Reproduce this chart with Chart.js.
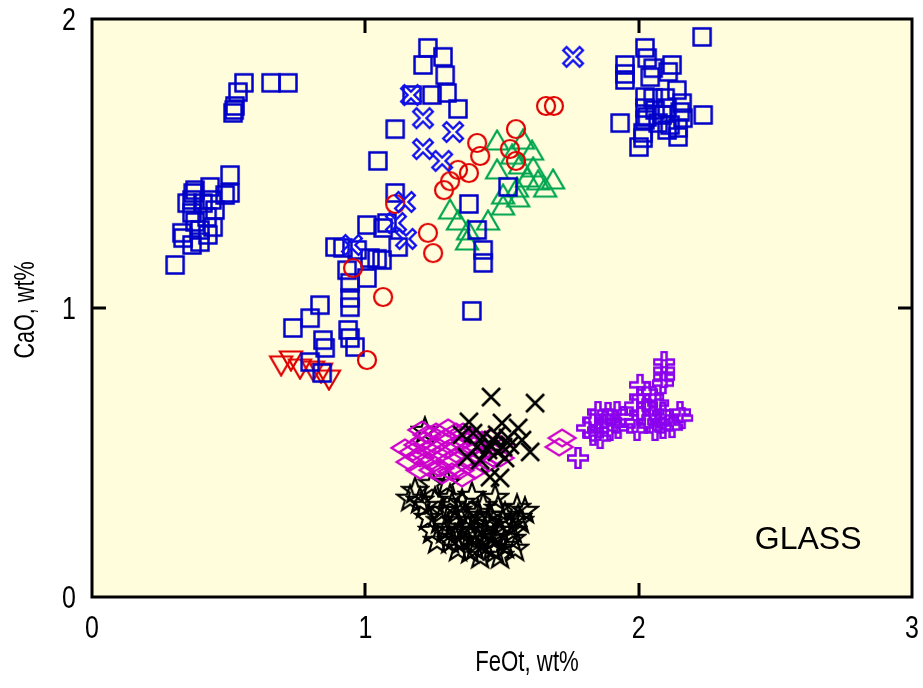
<!DOCTYPE html>
<html>
<head>
<meta charset="utf-8">
<script src="https://cdn.jsdelivr.net/npm/chart.js@4.4.0/dist/chart.umd.min.js"></script>
<style>
  html, body { margin: 0; padding: 0; background: #fff; }
</style>
</head>
<body>
<canvas id="chart" width="923" height="688"></canvas>
<script>
// tick values
const xTicks = [0, 1, 2, 3];
const yTicks = [0, 1, 2];

// [FeOt, CaO] pairs
const blueSquares = [
  [0.556,1.779],[0.534,1.747],[0.523,1.699],[0.520,1.685],[0.516,1.675],[0.655,1.779],[0.717,1.779],
  [0.505,1.460],[0.505,1.398],[0.487,1.391],[0.377,1.408],[0.370,1.398],[0.366,1.374],[0.432,1.419],
  [0.439,1.374],[0.450,1.339],[0.421,1.315],[0.366,1.329],[0.377,1.298],[0.395,1.270],[0.424,1.253],
  [0.329,1.260],[0.333,1.242],[0.366,1.218],[0.395,1.228],[0.304,1.149],[0.443,1.280],[0.406,1.363],
  [0.348,1.363],
  [1.109,1.619],[1.046,1.509],[1.109,1.398],[1.006,1.287],[1.065,1.277],[1.120,1.211],[0.889,1.211],
  [0.918,1.208],[0.970,1.201],[1.017,1.173],[1.043,1.170],[0.933,1.131],[1.006,1.104],[0.944,1.087],
  [0.944,1.035],[0.944,1.003],[0.834,1.010],[0.798,0.965],[0.735,0.931],[0.845,0.889],[0.853,0.862],
  [0.937,0.924],[0.944,0.896],[0.962,0.865],[0.798,0.813],[0.842,0.775],[1.079,1.294],[1.061,1.166],
  [1.229,1.900],[1.211,1.841],[1.284,1.869],[1.292,1.806],[1.171,1.737],[1.244,1.737],[1.299,1.744],
  [1.339,1.689],[1.522,1.419],[1.379,1.360],[1.409,1.270],[1.431,1.201],[1.431,1.156],[1.390,0.990],
  [2.232,1.938],[2.023,1.900],[2.031,1.865],[1.950,1.841],[1.950,1.810],[1.950,1.789],[2.053,1.830],
  [2.122,1.841],[2.108,1.817],[2.042,1.799],[2.140,1.754],[2.023,1.730],[2.053,1.727],[2.097,1.727],
  [2.159,1.709],[2.023,1.692],[2.060,1.685],[2.104,1.692],[2.152,1.678],[2.236,1.668],[1.932,1.640],
  [2.023,1.651],[2.071,1.640],[2.115,1.633],[2.144,1.623],[2.016,1.606],[2.016,1.588],[2.104,1.616],
  [2.144,1.592],[2.001,1.557],[2.031,1.661],[2.162,1.657],[2.086,1.668]
];
const blueCrosses = [
  [1.760,1.869],[1.167,1.737],[1.211,1.657],[1.321,1.609],[1.211,1.550],[1.281,1.509],
  [1.145,1.367],[1.112,1.294],[1.149,1.239],[0.951,1.218]
];
const redCircles = [
  [1.661,1.699],[1.690,1.699],[1.551,1.619],[1.409,1.571],[1.420,1.526],[1.529,1.550],[1.551,1.509],
  [1.339,1.478],[1.379,1.467],[1.310,1.439],[1.288,1.408],[1.109,1.360],[1.229,1.260],[1.248,1.190],
  [1.065,1.038],[0.955,1.138],[1.006,0.820]
];
const redTriangles = [
  [0.692,0.810],[0.728,0.827],[0.761,0.799],[0.809,0.792],[0.838,0.785],[0.867,0.761]
];
const greenTriangles = [
  [1.482,1.571],[1.577,1.574],[1.610,1.536],[1.537,1.522],[1.482,1.471],[1.566,1.488],[1.614,1.478],
  [1.592,1.443],[1.632,1.433],[1.687,1.436],[1.658,1.408],[1.555,1.408],[1.504,1.384],[1.559,1.374],
  [1.504,1.346],[1.310,1.332],[1.339,1.294],[1.449,1.294],[1.376,1.260],[1.372,1.225]
];
const blackCrosses = [
  [1.460,0.692],[1.621,0.671],[1.379,0.606],[1.500,0.602],[1.559,0.585],[1.354,0.561],[1.394,0.567],
  [1.431,0.554],[1.482,0.561],[1.522,0.550],[1.573,0.543],[1.409,0.519],[1.456,0.526],[1.504,0.519],
  [1.603,0.502],[1.372,0.484],[1.420,0.474],[1.511,0.481],[1.456,0.415],[1.493,0.412],[1.467,0.543],
  [1.449,0.509],[1.529,0.526],[1.482,0.502]
];
const magentaDiamonds = [
  [1.175,0.502],[1.193,0.526],[1.200,0.481],[1.218,0.543],[1.229,0.509],[1.237,0.467],[1.255,0.526],
  [1.266,0.491],[1.273,0.446],[1.292,0.550],[1.299,0.509],[1.310,0.474],[1.328,0.526],[1.339,0.491],
  [1.347,0.439],[1.365,0.543],[1.376,0.509],[1.383,0.467],[1.401,0.526],[1.412,0.491],[1.427,0.543],
  [1.438,0.457],[1.456,0.509],[1.467,0.481],[1.486,0.526],[1.226,0.561],[1.281,0.422],[1.317,0.433],
  [1.248,0.439],[1.357,0.571],[1.720,0.550],[1.709,0.519],
  [1.145,0.516],[1.164,0.467],[1.207,0.578],[1.259,0.571],[1.303,0.585],[1.332,0.571],[1.390,0.557],
  [1.456,0.550],[1.493,0.481],[1.401,0.439],[1.354,0.412],[1.200,0.439]
];
const purplePluses = [
  [2.093,0.813],[2.093,0.785],[2.093,0.761],[2.089,0.740],[2.005,0.734],[2.031,0.709],[2.005,0.692],
  [2.053,0.692],[1.987,0.664],[2.031,0.664],[2.071,0.671],[2.005,0.637],[2.053,0.640],[2.089,0.637],
  [1.987,0.606],[2.031,0.606],[2.071,0.606],[2.108,0.612],[2.151,0.640],[2.159,0.619],[1.994,0.578],
  [2.060,0.578],[2.089,0.585],[2.122,0.588],[1.851,0.640],[1.888,0.637],[1.921,0.640],[1.833,0.612],
  [1.877,0.606],[1.914,0.606],[1.943,0.623],[1.811,0.585],[1.851,0.578],[1.895,0.578],[1.925,0.585],
  [1.859,0.550],[1.833,0.561],[1.778,0.481]
];
const blackStars = [
  [1.218,0.578],[1.182,0.370],[1.244,0.394],[1.299,0.398],[1.200,0.336],[1.255,0.336],[1.310,0.346],
  [1.390,0.353],[1.475,0.346],[1.555,0.311],[1.229,0.277],[1.281,0.301],[1.339,0.301],[1.412,0.294],
  [1.511,0.284],[1.244,0.232],[1.303,0.242],[1.376,0.242],[1.449,0.256],[1.529,0.249],[1.354,0.197],
  [1.412,0.197],[1.475,0.208],[1.537,0.204],[1.401,0.173],[1.464,0.173],[1.559,0.277],[1.328,0.266],
  [1.365,0.284],[1.438,0.232],[1.493,0.232],[1.383,0.215],[1.456,0.284],[1.420,0.266],[1.347,0.232],
  [1.511,0.180],[1.438,0.180],[1.273,0.266],[1.310,0.197],[1.383,0.163],[1.475,0.163],
  [1.317,0.318],[1.354,0.329],[1.431,0.318],[1.486,0.308],[1.292,0.232],[1.328,0.208],[1.376,0.266],
  [1.401,0.232],[1.467,0.204],[1.504,0.260],[1.540,0.232],[1.566,0.266],[1.339,0.170],[1.420,0.145],
  [1.493,0.145],[1.548,0.170],[1.262,0.197],[1.218,0.318],[1.164,0.343],[1.584,0.301]
];

const BG = "#fffddc";
const FONT = "'Liberation Sans', Arial, sans-serif";

// small canvases used as point styles
function marker(w, h, draw) {
  const c = document.createElement("canvas");
  c.width = w; c.height = h;
  const g = c.getContext("2d");
  g.translate(w / 2, h / 2);
  draw(g);
  return c;
}
function hollowLines(g, color, segs, outer, inner, shrink) {
  g.lineCap = "butt";
  g.strokeStyle = color;
  g.lineWidth = outer;
  segs.forEach(s => { g.beginPath(); g.moveTo(s[0], s[1]); g.lineTo(s[2], s[3]); g.stroke(); });
  g.globalCompositeOperation = "destination-out";
  g.lineWidth = inner;
  segs.forEach(s => { g.beginPath(); g.moveTo(s[0] * shrink, s[1] * shrink); g.lineTo(s[2] * shrink, s[3] * shrink); g.stroke(); });
  g.globalCompositeOperation = "source-over";
}

const sqImg = marker(24, 24, g => { g.strokeStyle = "#0000c8"; g.lineWidth = 2.5; g.strokeRect(-8.5, -8.5, 17, 17); });
const circImg = marker(24, 24, g => { g.strokeStyle = "#e00000"; g.lineWidth = 2.2; g.beginPath(); g.arc(0, 0, 9, 0, Math.PI * 2); g.stroke(); });
const triUpImg = marker(28, 28, g => {
  g.strokeStyle = "#00a550"; g.lineWidth = 2.2;
  g.beginPath(); g.moveTo(0, -12.5); g.lineTo(11, 6.5); g.lineTo(-11, 6.5); g.closePath(); g.stroke();
});
const triDownImg = marker(28, 28, g => {
  g.strokeStyle = "#e00000"; g.lineWidth = 2.2;
  g.beginPath(); g.moveTo(0, 12.5); g.lineTo(11, -6.5); g.lineTo(-11, -6.5); g.closePath(); g.stroke();
});
const blueXImg = marker(30, 30, g => hollowLines(g, "#1010f0", [[-9, -9, 9, 9], [-9, 9, 9, -9]], 7, 2.4, 0.82));
const plusImg = marker(28, 28, g => hollowLines(g, "#8a00ee", [[-11, 0, 11, 0], [0, -11, 0, 11]], 7.5, 2.4, 0.8));
const blackXImg = marker(26, 26, g => {
  g.strokeStyle = "#000"; g.lineWidth = 2.6;
  g.beginPath(); g.moveTo(-9, -9); g.lineTo(9, 9); g.moveTo(-9, 9); g.lineTo(9, -9); g.stroke();
});
const starImg = marker(30, 30, g => {
  g.strokeStyle = "#000"; g.lineWidth = 2.2;
  g.beginPath();
  for (let i = 0; i < 10; i++) {
    const r = i % 2 ? 5.5 : 13.5;
    const a = -Math.PI / 2 + i * Math.PI / 5;
    g.lineTo(r * Math.cos(a), r * Math.sin(a) + 1);
  }
  g.closePath(); g.stroke();
});
const diamondImg = marker(32, 22, g => {
  g.strokeStyle = "#cc00cc"; g.lineWidth = 2.2;
  g.beginPath(); g.moveTo(-13.5, 0); g.lineTo(0, -8.5); g.lineTo(13.5, 0); g.lineTo(0, 8.5); g.closePath(); g.stroke();
});

const pts = arr => arr.map(p => ({ x: p[0], y: p[1] }));
const set = (data, img) => ({ data: pts(data), pointStyle: img, pointRadius: 10, showLine: false });

// text squeezed sideways, like the narrow face of the original
function squeezed(ctx, text, x, y, size, sx, align, rot) {
  ctx.save();
  ctx.translate(x, y);
  if (rot) ctx.rotate(rot);
  ctx.scale(sx, 1);
  ctx.font = size + "px " + FONT;
  ctx.textAlign = align;
  ctx.textBaseline = "middle";
  ctx.fillText(text, 0, 0);
  ctx.restore();
}

// frame, inward ticks, labels and the GLASS note
const framePlugin = {
  id: "frame",
  beforeDraw(chart) {
    const a = chart.chartArea, ctx = chart.ctx;
    ctx.save();
    ctx.fillStyle = BG;
    ctx.fillRect(a.left, a.top, a.right - a.left, a.bottom - a.top);
    ctx.restore();
  },
  afterDraw(chart) {
    const a = chart.chartArea, ctx = chart.ctx;
    const xs = chart.scales.x, ys = chart.scales.y;
    ctx.save();
    ctx.strokeStyle = "#000";
    ctx.lineWidth = 3;
    ctx.strokeRect(a.left, a.top, a.right - a.left, a.bottom - a.top);
    ctx.beginPath();
    xTicks.slice(1, -1).forEach(v => {
      const px = Math.round(xs.getPixelForValue(v));
      ctx.moveTo(px, a.bottom); ctx.lineTo(px, a.bottom - 14);
      ctx.moveTo(px, a.top); ctx.lineTo(px, a.top + 14);
    });
    yTicks.slice(1, -1).forEach(v => {
      const py = Math.round(ys.getPixelForValue(v));
      ctx.moveTo(a.left, py); ctx.lineTo(a.left + 14, py);
      ctx.moveTo(a.right, py); ctx.lineTo(a.right - 14, py);
    });
    ctx.stroke();
    ctx.fillStyle = "#000";
    xTicks.forEach(v => squeezed(ctx, String(v), xs.getPixelForValue(v), a.bottom + 32, 32, 0.78, "center"));
    yTicks.forEach(v => squeezed(ctx, String(v), a.left - 16, ys.getPixelForValue(v) + 2, 32, 0.78, "right"));
    squeezed(ctx, "FeOt, wt%", 527, 663, 30, 0.74, "center");
    squeezed(ctx, "CaO, wt%", 26, (a.top + a.bottom) / 2 + 2, 30, 0.72, "center", -Math.PI / 2);
    ctx.font = "32px " + FONT;
    ctx.textAlign = "center";
    ctx.textBaseline = "middle";
    ctx.fillText("GLASS", xs.getPixelForValue(2.62), ys.getPixelForValue(0.197));
    ctx.restore();
  }
};

new Chart(document.getElementById("chart"), {
  type: "scatter",
  data: {
    datasets: [
      set(blueCrosses, blueXImg),
      set(redCircles, circImg),
      set(blueSquares, sqImg),
      set(greenTriangles, triUpImg),
      set(redTriangles, triDownImg),
      set(blackCrosses, blackXImg),
      set(magentaDiamonds, diamondImg),
      set(blackStars, starImg),
      set(purplePluses, plusImg)
    ]
  },
  options: {
    responsive: false,
    animation: false,
    layout: { padding: { top: 19, right: 11, left: 0, bottom: 0 } },
    plugins: { legend: { display: false }, tooltip: { enabled: false } },
    scales: {
      x: {
        type: "linear", min: 0, max: 3,
        afterBuildTicks: s => { s.ticks = xTicks.map(v => ({ value: v })); },
        afterFit: s => { s.height = 91; },
        grid: { display: false, drawTicks: false },
        border: { display: false },
        ticks: { display: false }
      },
      y: {
        type: "linear", min: 0, max: 2,
        afterBuildTicks: s => { s.ticks = yTicks.map(v => ({ value: v })); },
        afterFit: s => { s.width = 92; },
        grid: { display: false, drawTicks: false },
        border: { display: false },
        ticks: { display: false }
      }
    }
  },
  plugins: [framePlugin]
});
</script>
</body>
</html>
